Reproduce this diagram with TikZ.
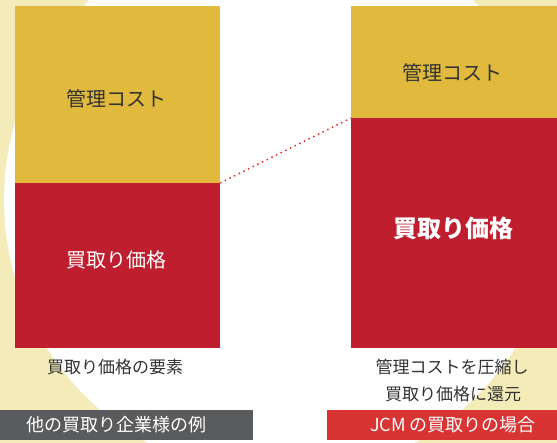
\documentclass[tikz,border=0pt]{standalone}
\usepackage{fontspec}
\setmainfont{Noto Sans CJK JP}
\definecolor{cream}{HTML}{F4ECB8}
\definecolor{goldy}{HTML}{E1B93C}
\definecolor{crim}{HTML}{BE1E2E}
\definecolor{barred}{HTML}{D93434}
\definecolor{bargray}{HTML}{5A5B5D}
\definecolor{txt}{HTML}{333333}
\definecolor{dotred}{HTML}{E8302F}
\begin{document}
\begin{tikzpicture}[x=1pt,y=-1pt,
  blk/.style={draw=none,inner sep=0,outer sep=0,anchor=north west},
  lbl/.style={inner sep=0,anchor=center},
  captxt/.style={lbl,text=txt,font=\fontsize{17}{21}\selectfont,align=center}]
\useasboundingbox (0,0) rectangle (557,443);
% background
\fill[cream] (0,0) rectangle (557,443);
\fill[white] (281,200) circle[radius=277];
% left column
\node[blk,fill=goldy,minimum width=205pt,minimum height=177pt] (ly) at (15,6) {};
\node[blk,fill=crim,minimum width=205pt,minimum height=165pt] (lr) at (15,183) {};
% right column
\node[blk,fill=goldy,minimum width=206pt,minimum height=112pt] (ry) at (351,6) {};
\node[blk,fill=crim,minimum width=206pt,minimum height=230pt] (rr) at (351,118) {};
% texts in boxes
\node[lbl,text=txt,font=\fontsize{20}{24}\selectfont] (lyt) at (116,99) {管理コスト};
\node[lbl,text=white,font=\fontsize{20}{24}\selectfont] (lrt) at (116,260) {買取り価格};
\node[lbl,text=txt,font=\fontsize{20}{24}\selectfont] (ryt) at (452,73) {管理コスト};
\node[lbl,text=white,font=\fontsize{24}{28}\selectfont\bfseries] (rrt) at (453,228) {買取り価格};
% dotted connector
\draw[dotred,line width=1.5pt,dash pattern=on 1.5pt off 3.7pt] (ly.south east) -- (ry.south west);
% captions
\node[captxt] (lc) at (115,367) {買取り価格の要素};
\node[captxt] (rc1) at (452,367) {管理コストを圧縮し};
\node[captxt] (rc2) at (453,394) {買取り価格に還元};
% bottom bars
\node[blk,fill=bargray,minimum width=253pt,minimum height=30pt] (lb) at (0,410) {};
\node[blk,fill=barred,minimum width=230pt,minimum height=30pt] (rb) at (327,410) {};
\node[lbl,text=white,font=\fontsize{18}{22}\selectfont] (lbt) at (116,425) {他の買取り企業様の例};
\node[lbl,text=white,font=\fontsize{18}{22}\selectfont] (rbt) at (453,425) {JCM の買取りの場合};
\end{tikzpicture}
\end{document}
